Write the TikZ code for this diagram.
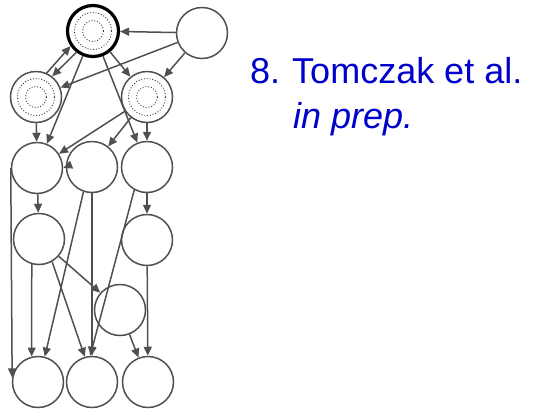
\documentclass[tikz,border=0pt]{standalone}
\usepackage{fontspec}
\setmainfont{Liberation Sans}
\usetikzlibrary{arrows.meta}
\definecolor{edgegray}{RGB}{80,80,80}
\definecolor{txtblue}{RGB}{0,0,204}
\tikzset{
  var/.style={circle, draw=edgegray, line width=1.5pt, fill=white, minimum size=51pt, inner sep=0pt},
  latent/.style={var, draw=black, line width=3.2pt},
  dotring/.style={draw=black!80, line width=0.9pt, dash pattern=on 0.9pt off 1.9pt},
  conn/.style={draw=edgegray, line width=1.5pt, -{Triangle[length=9pt,width=8pt]}},
  lbl/.style={text=txtblue, font=\fontsize{36}{42}\selectfont, inner sep=0pt, anchor=base west}
}
\begin{document}
\begin{tikzpicture}[x=1pt,y=-1pt]
\useasboundingbox (0,0) rectangle (536,408);
% nodes
\node[latent] (T) at (93,31) {};
\node[var] (R) at (202,33) {};
\node[var] (L) at (36,97) {};
\node[var] (M) at (147,97) {};
\node[var] (A) at (37,168) {};
\node[var] (B) at (92,167) {};
\node[var] (C) at (147,167) {};
\node[var] (D) at (39,239) {};
\node[var] (E) at (147,240) {};
\node[var] (F) at (120,310) {};
\node[var] (G) at (38,382) {};
\node[var] (H) at (92,382) {};
\node[var] (I) at (148,382) {};
% dotted rings
\foreach \n in {T,L,M}{
  \draw[dotring] (\n.center) circle[radius=18.5];
  \draw[dotring] (\n.center) circle[radius=10.5];
}
% connectors
\draw[conn] (R) -- (T);
\draw[conn] (R) -- (L);
\draw[conn] (R) -- (M);
\draw[conn] (L.66) -- (T.214);
\draw[conn] (T.232) -- (L.52);
\draw[conn] (T) -- (M);
\draw[conn] (T) -- (A);
\draw[conn] (T) -- (C);
\draw[conn] (L) -- (A);
\draw[conn] (M) -- (A);
\draw[conn] (M) -- (B);
\draw[conn] (M) -- (C);
\draw[conn] (B.180) -- (A.0);
\draw[conn] (A) -- (D);
\draw[conn] (A.west) -- (G.170);
\draw[conn] (B.251) -- (G.75);
\draw[conn] (B) -- (H);
\draw[conn] (C.241) -- (H.94);
\draw[conn] (C) -- (E);
\draw[conn] (D.254) -- (G.104);
\draw[conn] (D.300) -- (H.106);
\draw[conn] (D) -- (F);
\draw[conn] (F) -- (I);
\draw[conn] (E) -- (I);
% text
\node[lbl] (t1) at (250,83) {8.\hspace{12pt}Tomczak et al.};
\node[lbl] (t2) at (293,128) {\itshape in prep.};
\end{tikzpicture}
\end{document}
